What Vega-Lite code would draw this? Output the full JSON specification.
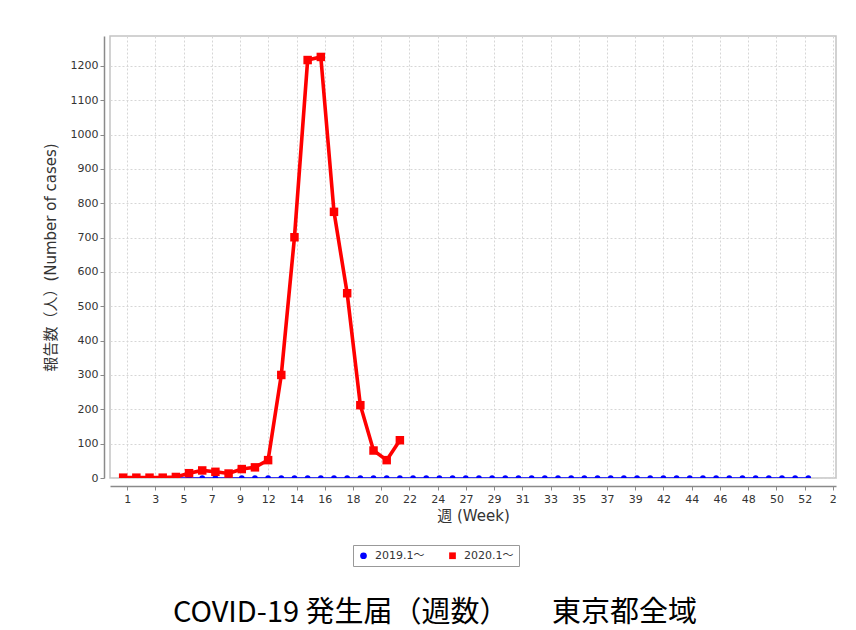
{
  "$schema": "https://vega.github.io/schema/vega-lite/v6.json",
  "width": 726,
  "height": 442,
  "autosize": {"type": "none"},
  "padding": {"left": 110, "top": 36, "right": 20, "bottom": 152},
  "background": "white",
  "config": {
    "font": "DejaVu Sans, Noto Sans CJK JP",
    "view": {"stroke": "#c4c4c4", "strokeWidth": 1.5}
  },
  "title": {
    "text": "COVID-19 発生届（週数）　　東京都全域",
    "orient": "bottom",
    "anchor": "middle",
    "frame": "group",
    "dx": -38,
    "offset": 32,
    "font": "Noto Sans CJK JP",
    "fontSize": 29,
    "fontWeight": "normal",
    "color": "#000000"
  },
  "data": {
    "values": [
      {"week": 1, "series": "2019.1～", "cases": 0},
      {"week": 2, "series": "2019.1～", "cases": 0},
      {"week": 3, "series": "2019.1～", "cases": 0},
      {"week": 4, "series": "2019.1～", "cases": 0},
      {"week": 5, "series": "2019.1～", "cases": 0},
      {"week": 6, "series": "2019.1～", "cases": 0},
      {"week": 7, "series": "2019.1～", "cases": 0},
      {"week": 8, "series": "2019.1～", "cases": 0},
      {"week": 9, "series": "2019.1～", "cases": 0},
      {"week": 10, "series": "2019.1～", "cases": 0},
      {"week": 11, "series": "2019.1～", "cases": 0},
      {"week": 12, "series": "2019.1～", "cases": 0},
      {"week": 13, "series": "2019.1～", "cases": 0},
      {"week": 14, "series": "2019.1～", "cases": 0},
      {"week": 15, "series": "2019.1～", "cases": 0},
      {"week": 16, "series": "2019.1～", "cases": 0},
      {"week": 17, "series": "2019.1～", "cases": 0},
      {"week": 18, "series": "2019.1～", "cases": 0},
      {"week": 19, "series": "2019.1～", "cases": 0},
      {"week": 20, "series": "2019.1～", "cases": 0},
      {"week": 21, "series": "2019.1～", "cases": 0},
      {"week": 22, "series": "2019.1～", "cases": 0},
      {"week": 23, "series": "2019.1～", "cases": 0},
      {"week": 24, "series": "2019.1～", "cases": 0},
      {"week": 25, "series": "2019.1～", "cases": 0},
      {"week": 26, "series": "2019.1～", "cases": 0},
      {"week": 27, "series": "2019.1～", "cases": 0},
      {"week": 28, "series": "2019.1～", "cases": 0},
      {"week": 29, "series": "2019.1～", "cases": 0},
      {"week": 30, "series": "2019.1～", "cases": 0},
      {"week": 31, "series": "2019.1～", "cases": 0},
      {"week": 32, "series": "2019.1～", "cases": 0},
      {"week": 33, "series": "2019.1～", "cases": 0},
      {"week": 34, "series": "2019.1～", "cases": 0},
      {"week": 35, "series": "2019.1～", "cases": 0},
      {"week": 36, "series": "2019.1～", "cases": 0},
      {"week": 37, "series": "2019.1～", "cases": 0},
      {"week": 38, "series": "2019.1～", "cases": 0},
      {"week": 39, "series": "2019.1～", "cases": 0},
      {"week": 40, "series": "2019.1～", "cases": 0},
      {"week": 41, "series": "2019.1～", "cases": 0},
      {"week": 42, "series": "2019.1～", "cases": 0},
      {"week": 43, "series": "2019.1～", "cases": 0},
      {"week": 44, "series": "2019.1～", "cases": 0},
      {"week": 45, "series": "2019.1～", "cases": 0},
      {"week": 46, "series": "2019.1～", "cases": 0},
      {"week": 47, "series": "2019.1～", "cases": 0},
      {"week": 48, "series": "2019.1～", "cases": 0},
      {"week": 49, "series": "2019.1～", "cases": 0},
      {"week": 50, "series": "2019.1～", "cases": 0},
      {"week": 51, "series": "2019.1～", "cases": 0},
      {"week": 52, "series": "2019.1～", "cases": 0},
      {"week": 53, "series": "2019.1～", "cases": 0},
      {"week": 1, "series": "2020.1～", "cases": 1},
      {"week": 2, "series": "2020.1～", "cases": 1},
      {"week": 3, "series": "2020.1～", "cases": 1},
      {"week": 4, "series": "2020.1～", "cases": 1},
      {"week": 5, "series": "2020.1～", "cases": 3},
      {"week": 6, "series": "2020.1～", "cases": 14},
      {"week": 7, "series": "2020.1～", "cases": 22},
      {"week": 8, "series": "2020.1～", "cases": 18},
      {"week": 9, "series": "2020.1～", "cases": 13},
      {"week": 10, "series": "2020.1～", "cases": 26},
      {"week": 11, "series": "2020.1～", "cases": 31},
      {"week": 12, "series": "2020.1～", "cases": 52},
      {"week": 13, "series": "2020.1～", "cases": 300},
      {"week": 14, "series": "2020.1～", "cases": 701},
      {"week": 15, "series": "2020.1～", "cases": 1217},
      {"week": 16, "series": "2020.1～", "cases": 1226},
      {"week": 17, "series": "2020.1～", "cases": 775},
      {"week": 18, "series": "2020.1～", "cases": 538},
      {"week": 19, "series": "2020.1～", "cases": 212},
      {"week": 20, "series": "2020.1～", "cases": 80},
      {"week": 21, "series": "2020.1～", "cases": 52},
      {"week": 22, "series": "2020.1～", "cases": 110}
    ]
  },
  "encoding": {
    "x": {
      "field": "week",
      "type": "quantitative",
      "scale": {"domain": [0, 55.1], "nice": false, "zero": false},
      "axis": {
        "title": "週 (Week)",
        "values": [1.3, 3.4425, 5.585, 7.7275, 9.87, 12.0125, 14.155, 16.2975, 18.44, 20.5825, 22.725, 24.8675, 27.01, 29.1525, 31.295, 33.4375, 35.58, 37.7225, 39.865, 42.0075, 44.15, 46.2925, 48.435, 50.5775, 52.72, 54.8625],
        "labelExpr": "'' + (floor(datum.value) > 52 ? floor(datum.value) - 52 : floor(datum.value))",
        "offset": 8,
        "grid": true,
        "gridColor": "#d6d6d6",
        "gridDash": [2, 2],
        "gridWidth": 1,
        "domainColor": "#8a8a8a",
        "domainWidth": 1.5,
        "tickColor": "#8a8a8a",
        "tickSize": 4,
        "labelFontSize": 11,
        "labelColor": "#333333",
        "labelPadding": 3,
        "labelFlush": false,
        "labelOverlap": false,
        "titleFontSize": 15,
        "titleFontWeight": "normal",
        "titleColor": "#333333",
        "titlePadding": 4
      }
    },
    "y": {
      "field": "cases",
      "type": "quantitative",
      "scale": {"domain": [0, 1287], "nice": false},
      "axis": {
        "title": "報告数（人）(Number of cases)",
        "values": [0, 100, 200, 300, 400, 500, 600, 700, 800, 900, 1000, 1100, 1200],
        "format": "d",
        "offset": 6,
        "grid": true,
        "gridColor": "#d6d6d6",
        "gridDash": [2, 2],
        "gridWidth": 1,
        "domainColor": "#8a8a8a",
        "domainWidth": 1.5,
        "tickColor": "#8a8a8a",
        "tickSize": 4,
        "labelFontSize": 11,
        "labelColor": "#333333",
        "labelPadding": 2,
        "labelFlush": false,
        "titleFontSize": 15,
        "titleFontWeight": "normal",
        "titleColor": "#333333",
        "titlePadding": 12
      }
    }
  },
  "layer": [
    {
      "transform": [{"filter": "datum.series === '2019.1～'"}],
      "mark": {"type": "line", "clip": true, "color": "#0000ff", "strokeWidth": 1.5},
      "encoding": {}
    },
    {
      "transform": [{"filter": "datum.series === '2019.1～'"}],
      "mark": {"type": "point", "filled": true, "opacity": 1, "clip": true, "size": 32},
      "encoding": {
        "color": {
          "field": "series",
          "type": "nominal",
          "scale": {"domain": ["2019.1～", "2020.1～"], "range": ["#0000ff", "#ff0000"]},
          "legend": {
            "title": null,
            "orient": "none",
            "legendX": 243,
            "legendY": 509,
            "direction": "horizontal",
            "strokeColor": "#999999",
            "fillColor": "#ffffff",
            "padding": 5,
            "symbolSize": 45,
            "labelFontSize": 11,
            "labelColor": "#333333",
            "labelOffset": 6,
            "columnPadding": 22
          }
        },
        "shape": {
          "field": "series",
          "type": "nominal",
          "scale": {"domain": ["2019.1～", "2020.1～"], "range": ["circle", "square"]},
          "legend": {
            "title": null,
            "orient": "none",
            "legendX": 243,
            "legendY": 509,
            "direction": "horizontal",
            "strokeColor": "#999999",
            "fillColor": "#ffffff",
            "padding": 5,
            "symbolSize": 45,
            "labelFontSize": 11,
            "labelColor": "#333333",
            "labelOffset": 6,
            "columnPadding": 22
          }
        }
      }
    },
    {
      "transform": [{"filter": "datum.series === '2020.1～'"}],
      "mark": {"type": "line", "clip": true, "color": "#ff0000", "strokeWidth": 3.6},
      "encoding": {}
    },
    {
      "transform": [{"filter": "datum.series === '2020.1～'"}],
      "mark": {"type": "point", "filled": true, "opacity": 1, "clip": true, "size": 72},
      "encoding": {
        "color": {
          "field": "series",
          "type": "nominal",
          "scale": {"domain": ["2019.1～", "2020.1～"], "range": ["#0000ff", "#ff0000"]},
          "legend": {
            "title": null,
            "orient": "none",
            "legendX": 243,
            "legendY": 509,
            "direction": "horizontal",
            "strokeColor": "#999999",
            "fillColor": "#ffffff",
            "padding": 5,
            "symbolSize": 45,
            "labelFontSize": 11,
            "labelColor": "#333333",
            "labelOffset": 6,
            "columnPadding": 22
          }
        },
        "shape": {
          "field": "series",
          "type": "nominal",
          "scale": {"domain": ["2019.1～", "2020.1～"], "range": ["circle", "square"]},
          "legend": {
            "title": null,
            "orient": "none",
            "legendX": 243,
            "legendY": 509,
            "direction": "horizontal",
            "strokeColor": "#999999",
            "fillColor": "#ffffff",
            "padding": 5,
            "symbolSize": 45,
            "labelFontSize": 11,
            "labelColor": "#333333",
            "labelOffset": 6,
            "columnPadding": 22
          }
        }
      }
    }
  ]
}
